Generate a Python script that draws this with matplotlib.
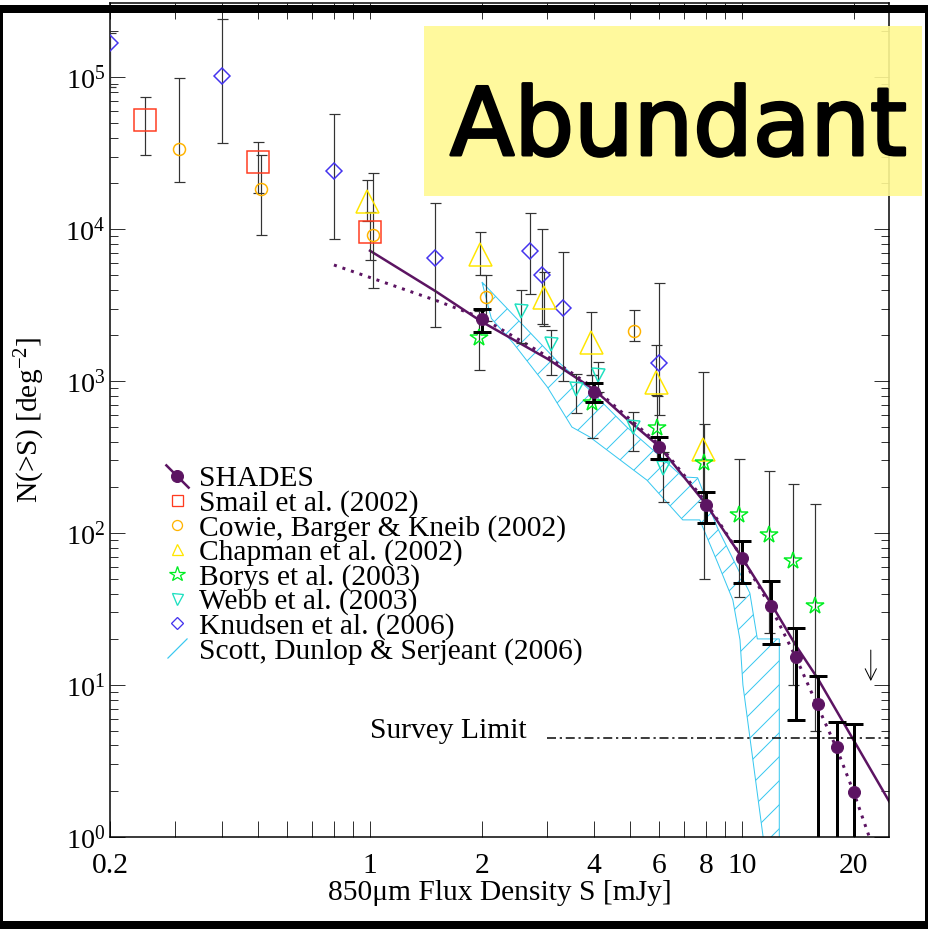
import numpy as np
import matplotlib
matplotlib.use('Agg')
import matplotlib.pyplot as plt
import matplotlib.patheffects as pe
from matplotlib.lines import Line2D
from matplotlib.patches import Rectangle
from matplotlib.path import Path

plt.rcParams['font.family'] = ['Liberation Serif', 'DejaVu Serif']
plt.rcParams['mathtext.fontset'] = 'custom'
plt.rcParams['mathtext.rm'] = 'Liberation Serif'
plt.rcParams['mathtext.it'] = 'Liberation Serif:italic'
plt.rcParams['hatch.linewidth'] = 1.0

# SHADES counts
shades_S = [2, 4, 6, 8, 10, 12, 14, 16, 18, 20]
shades_N = [2560, 850, 366, 153, 68.5, 33.1, 15.4, 7.5, 3.93, 1.97]
shades_hi = [2960, 966, 426, 185, 89, 48.6, 23.8, 11.5, 5.74, 5.54]
shades_lo = [2110, 731, 307, 116, 46.7, 18.5, 5.88, 0.1, 0.1, 0.1]

# model fits
fit_S = [1.0, 1.5, 2.0, 3.0, 4.0, 5.0, 6.0, 8.0, 10, 12, 14, 16, 18, 20, 25]
fit_N = [7200, 3900, 2450, 1400, 880, 540, 370, 155, 69, 34, 18, 11, 6.7, 4.3, 1.68]
fit2_S = [0.8, 1.0, 1.5, 2.0, 3.0, 4.0, 6.0, 8.0, 10, 12, 14, 16, 18, 20, 22]
fit2_N = [5800, 4800, 3400, 2600, 1450, 900, 380, 160, 69, 32, 15, 7.2, 3.8, 1.95, 1.0]

# other surveys
smail_S = [0.249, 0.5, 1.0]
smail_N = [52100, 27600, 9600]
smail_hi = [73500, 37500, 13000]
smail_lo = [30700, 17300, 6250]

cowie_S = [0.306, 0.51, 1.02, 2.05, 5.12]
cowie_N = [33600, 18300, 9100, 3590, 2130]
cowie_hi = [98000, 30700, 23500, 5000, 2930]
cowie_lo = [20400, 9100, 4100, 2500, 1830]

chap_S = [0.98, 1.97, 2.94, 3.93, 5.89, 7.86]
chap_N = [15200, 6870, 3580, 1810, 990, 356]
chap_hi = [21000, 9600, 5240, 2830, 1730, 1150]
chap_lo = [11300, 4980, 2300, 1100, 810, 160]

borys_S = [1.96, 3.95, 5.9, 7.9, 9.83, 11.8, 13.7, 15.7]
borys_N = [1910, 713, 488, 288, 131, 97, 65.7, 33.1]
borys_hi = [2900, 1100, 800, 521, 305, 256, 209, 155]
borys_lo = [1190, 420, 300, 50, 38, 22, 10, 5]

webb_S = [2.55, 3.07, 3.57, 4.09, 5.1, 6.14]
webb_N = [2890, 1740, 880, 1090, 500, 267]
webb_hi = [3990, 2170, 1110, 1330, 628, 340]
webb_lo = [1790, 1100, 612, 850, 348, 161]

knud_S = [0.2, 0.4, 0.8, 1.5, 2.7, 2.9, 3.31, 6.0]
knud_N = [167000, 102000, 24200, 6400, 7130, 4980, 3030, 1320]
knud_hi = [195000, 242000, 56800, 14900, 12800, 9950, 7090, 4400]
knud_lo = [86000, 37000, 8630, 2280, 3720, 2370, 1000, 600]

# Scott, Dunlop & Serjeant (2006) envelope
scott_upper_S = [2.0, 3.17, 3.9, 4.9, 5.76, 6.93, 7.6, 8.58, 10.5, 11.0, 12.6, 12.6]
scott_upper_N = [4480, 1370, 873, 498, 352, 234, 231, 109, 40.3, 20.1, 20.1, 0.5]
scott_lower_S = [2.12, 2.43, 3.0, 3.49, 3.9, 5.55, 6.93, 7.7, 8.61, 9.45, 9.88, 10.06, 11.4, 11.7]
scott_lower_N = [2580, 1770, 911, 498, 428, 223, 122, 122, 63.5, 36.3, 19.8, 10.0, 1.0, 0.5]

survey_S = [3.0, 30]
survey_N = [4.5, 4.5]

xtick_vals = [0.2, 0.3, 0.4, 0.5, 0.6, 0.7, 0.8, 0.9, 1, 2, 3, 4, 5, 6, 7, 8, 9, 10, 20]
xtick_labels = ['0.2', '', '', '', '', '', '', '', '1', '2', '', '4', '', '6', '', '8', '', '10', '20']

purple = '#5c1462'
red = '#ff3b1f'
orange = '#ffb300'
yellow = '#ffe600'
green = '#00ee22'
teal = '#1ee0c0'
blue = '#4433ee'
cyan = '#38c8f0'

fig = plt.figure(figsize=(928 / 72, 929 / 72), dpi=72)
ax = fig.add_axes([110 / 928, 92 / 929, 779 / 928, 834 / 929])
ax.set_xscale('log')
ax.set_yscale('log')

# hatched envelope
env_S = scott_upper_S + scott_lower_S[::-1]
env_N = scott_upper_N + scott_lower_N[::-1]
ax.fill(env_S, env_N, facecolor='none', edgecolor=cyan, hatch='/', lw=1, zorder=1)

ax.plot(fit2_S, fit2_N, color=purple, lw=3, ls=(0, (1, 2)), zorder=2)
ax.plot(fit_S, fit_N, color=purple, lw=2.5, zorder=2)
ax.plot(survey_S, survey_N, color='black', lw=1.5, ls=(0, (6, 2.5, 1.5, 2.5)), zorder=2)


def thin_points(S, N, lo, hi, marker, ms, color):
    N = np.array(N)
    yerr = [N - np.array(lo), np.array(hi) - N]
    ax.errorbar(S, N, yerr=yerr, fmt='none', ecolor='#333333', elinewidth=1.2,
                capsize=5.5, capthick=1.2, zorder=3)
    ax.plot(S, N, ls='none', marker=marker, ms=ms, mfc='none', mec=color, mew=1.5, zorder=4)


thin_points(knud_S, knud_N, knud_lo, knud_hi, 'D', 12, blue)
thin_points(smail_S, smail_N, smail_lo, smail_hi, 's', 22, red)
thin_points(cowie_S, cowie_N, cowie_lo, cowie_hi, 'o', 12, orange)
thin_points(chap_S, chap_N, chap_lo, chap_hi, '^', 23, yellow)
thin_points(webb_S, webb_N, webb_lo, webb_hi, 'v', 13, teal)
thin_points(borys_S, borys_N, borys_lo, borys_hi, '*', 18, green)

sN = np.array(shades_N)
ax.errorbar(shades_S, sN, yerr=[sN - np.array(shades_lo), np.array(shades_hi) - sN],
            fmt='none', ecolor='black', elinewidth=3, capsize=9, capthick=3, zorder=6)
ax.plot(shades_S, shades_N, 'o', ms=12, color=purple, zorder=7)

ax.text(1.0, 4.48, 'Survey Limit', fontsize=29.5, va='baseline', ha='left')
ax.annotate('', xy=(22.2, 10.3), xytext=(22.2, 17.5),
            arrowprops=dict(arrowstyle='->', lw=1, color='black', mutation_scale=28))

ax.set_xticks(xtick_vals)
ax.set_xticklabels(xtick_labels)
ax.xaxis.set_minor_locator(matplotlib.ticker.NullLocator())
ax.set_yticks([10.0 ** k for k in range(6)])
ax.set_yticklabels(['$10^{%d}$' % k for k in range(6)])
ax.set_yticks([m * 10.0 ** k for k in range(6) for m in range(2, 10)], minor=True)
ax.yaxis.set_minor_formatter(matplotlib.ticker.NullFormatter())
ax.set_xlim(0.2, 24.85)
ax.set_ylim(1, 3.07e5)
ax.tick_params(axis='x', which='major', direction='in', length=16, width=1, color='#333333',
               top=True, labelsize=29.5, pad=16)
ax.tick_params(axis='y', which='major', direction='in', length=15, width=1, color='#333333',
               right=True, labelsize=28, pad=5)
ax.tick_params(axis='y', which='minor', direction='in', length=8, width=1, color='#333333',
               right=True)
for sp in ax.spines.values():
    sp.set_linewidth(1.5)

ax.set_xlabel('850μm Flux Density S [mJy]', fontsize=29.5)
ax.xaxis.set_label_coords(0.5, -0.0516)
ax.set_ylabel('N(>S) [deg$^{-2}$]', fontsize=29.5)
ax.yaxis.set_label_coords(-0.081, 0.5)

diag_dn = Path([(-1, 1), (1, -1)], [Path.MOVETO, Path.LINETO])
diag_up = Path([(-1, -1), (1, 1)], [Path.MOVETO, Path.LINETO])
handles = [
    (Line2D([], [], ls='none', marker=diag_dn, ms=24, mec=purple, mew=2.5),
     Line2D([], [], ls='none', marker='o', ms=12, color=purple)),
    Line2D([], [], ls='none', marker='s', ms=11, mfc='none', mec=red, mew=1.3),
    Line2D([], [], ls='none', marker='o', ms=10, mfc='none', mec=orange, mew=1.3),
    Line2D([], [], ls='none', marker='^', ms=11, mfc='none', mec=yellow, mew=1.3),
    Line2D([], [], ls='none', marker='*', ms=16, mfc='none', mec=green, mew=1.3),
    Line2D([], [], ls='none', marker='v', ms=11, mfc='none', mec=teal, mew=1.3),
    Line2D([], [], ls='none', marker='D', ms=8, mfc='none', mec=blue, mew=1.3),
    Line2D([], [], ls='none', marker=diag_up, ms=20, mec=cyan, mew=1.2),
]
labels = ['SHADES', 'Smail et al. (2002)', 'Cowie, Barger & Kneib (2002)', 'Chapman et al. (2002)',
          'Borys et al. (2003)', 'Webb et al. (2003)', 'Knudsen et al. (2006)',
          'Scott, Dunlop & Serjeant (2006)']
ax.legend(handles, labels, loc='upper left', bbox_to_anchor=(0.0706, 0.4453), frameon=False,
          fontsize=29.5, labelspacing=-0.08, handlelength=0.8, handletextpad=0.34,
          borderpad=0, borderaxespad=0)

# yellow label box
fig.patches.append(Rectangle((424 / 928, (929 - 196) / 929), 498 / 928, 170 / 929,
                             transform=fig.transFigure, facecolor='#fff993', alpha=0.9,
                             edgecolor='none', zorder=10))
fig.text(678.5 / 928, (929 - 155) / 929, 'Abundant', fontsize=94, family='DejaVu Sans',
         ha='center', va='baseline', color='black', zorder=11,
         path_effects=[pe.withStroke(linewidth=3, foreground='black')])

# black screen border
for r in [(0, 921, 928, 8), (0, 5, 928, 8), (0, 5, 2.5, 924), (925, 5, 3, 924)]:
    fig.patches.append(Rectangle((r[0] / 928, (929 - r[1] - r[3]) / 929), r[2] / 928, r[3] / 929,
                                 transform=fig.transFigure, facecolor='black', edgecolor='none',
                                 zorder=20))

fig.savefig('out.png', dpi=72)
